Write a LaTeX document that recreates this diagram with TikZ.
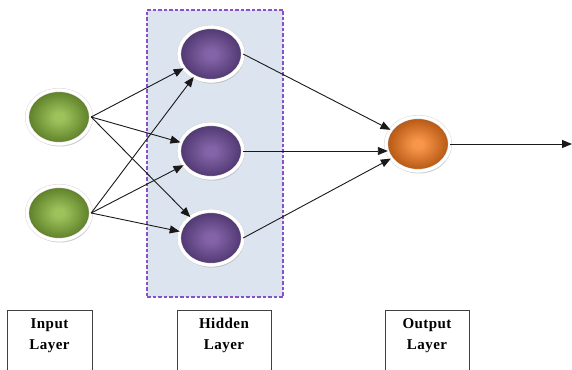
\documentclass[tikz,border=0pt]{standalone}
\usepackage{fontspec}
\setmainfont{Liberation Serif}
\newfontfamily\labelfont[LetterSpace=3]{Liberation Serif}
\usetikzlibrary{arrows.meta,shapes.geometric,shadows}

% colours of the three kinds of neurons
\definecolor{gin}{HTML}{9DC25C}
\definecolor{gmid}{HTML}{688A30}
\definecolor{gout}{HTML}{374E14}
\definecolor{pin}{HTML}{8464A8}
\definecolor{pmid}{HTML}{583F7A}
\definecolor{pout}{HTML}{2A1B40}
\definecolor{oin}{HTML}{F7954A}
\definecolor{omid}{HTML}{C0611B}
\definecolor{oout}{HTML}{72360A}
\definecolor{panelfill}{HTML}{DCE4F0}
\definecolor{paneledge}{HTML}{8A50CC}

\pgfdeclareradialshading{greenball}{\pgfpoint{0bp}{0bp}}{%
  color(0bp)=(gin); color(4bp)=(gin); color(21bp)=(gmid); color(39bp)=(gout); color(80bp)=(gout)}
\pgfdeclareradialshading{purpleball}{\pgfpoint{0bp}{0bp}}{%
  color(0bp)=(pin); color(4bp)=(pin); color(21bp)=(pmid); color(39bp)=(pout); color(80bp)=(pout)}
\pgfdeclareradialshading{orangeball}{\pgfpoint{0bp}{0bp}}{%
  color(0bp)=(oin); color(4bp)=(oin); color(21bp)=(omid); color(39bp)=(oout); color(80bp)=(oout)}

\tikzset{
  neuron/.style={ellipse, minimum width=64pt, minimum height=54pt, inner sep=0pt,
    draw=black!18, double=white, double distance=3.2pt, line width=0.4pt,
    drop shadow={shadow xshift=1pt, shadow yshift=-2.5pt, fill=black!45, opacity=0.45}},
  inneuron/.style={neuron, shading=greenball},
  hidneuron/.style={neuron, shading=purpleball},
  outneuron/.style={neuron, shading=orangeball},
  tip/.style={-{Triangle[length=10pt,width=8pt]}},
  link/.style={draw=black!90, line width=0.9pt, tip},
  layerbox/.style={draw=black!75, line width=0.9pt, anchor=north, align=center,
    minimum width=85pt, inner xsep=0pt, inner ysep=8pt, text depth=50pt,
    font=\labelfont\bfseries\fontsize{15}{21}\selectfont},
  panel/.style={draw=paneledge, fill=panelfill, line width=1.1pt,
    dash pattern=on 3.5pt off 2pt}
}

\begin{document}
\begin{tikzpicture}[x=1pt,y=-1pt]
  \clip (0,0) rectangle (572,369);

  % hidden-layer panel
  \node[panel, minimum width=136pt, minimum height=287pt, inner sep=0pt]
    (panel) at (215,153.5) {};

  % neurons
  \node[inneuron]  (i1) at (59,117) {};
  \node[inneuron]  (i2) at (59,213) {};
  \node[hidneuron] (h1) at (211,54) {};
  \node[hidneuron] (h2) at (211,151) {};
  \node[hidneuron] (h3) at (211,238) {};
  \node[outneuron] (o)  at (418,144) {};
  \coordinate (outend) at (572,144);

  % input -> hidden
  \foreach \s in {i1,i2}
    \foreach \t in {h1,h2,h3}
      \draw[link] (\s.east) -- (\t);

  % hidden -> output
  \draw[link] (h1.east) -- (o);
  \draw[link] (h2.east) -- ([xshift=2pt]h2.east -| o.west);
  \draw[link] (h3.east) -- (o);

  % output
  \draw[link] (o.east) -- (outend);

  % layer captions
  \node[layerbox] (inlabel)  at (49.5,310) {Input\\Layer};
  \node[layerbox, minimum width=94pt] (hidlabel) at (224,310) {Hidden\\Layer};
  \node[layerbox, minimum width=84pt] (outlabel) at (427,310) {Output\\Layer};
\end{tikzpicture}
\end{document}
